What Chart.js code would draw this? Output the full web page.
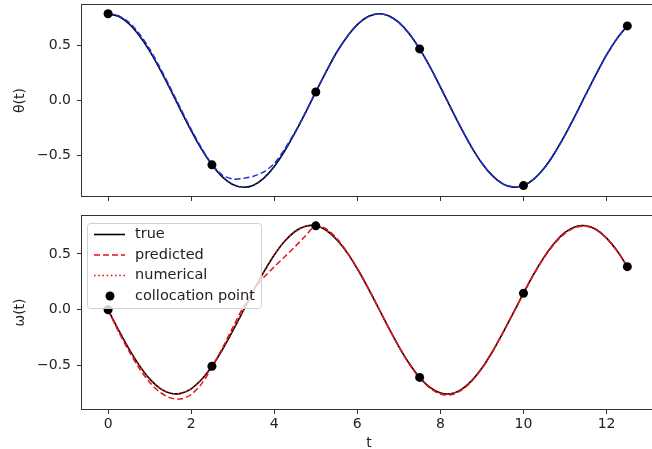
<!DOCTYPE html>
<html>
<head>
<meta charset="utf-8">
<script src="https://cdn.jsdelivr.net/npm/chart.js@4.4.1/dist/chart.umd.min.js"></script>
<style>
  html, body { margin: 0; padding: 0; background: #fff; overflow: hidden; width: 652px; height: 449px; }
  canvas { position: absolute; left: 0; display: block; }
  #thetaChart { top: 0; }
  #omegaChart { top: 205px; }
</style>
</head>
<body>
<canvas id="thetaChart" width="662" height="205"></canvas>
<canvas id="omegaChart" width="662" height="247"></canvas>
<script>
// time grid, step 0.25
var t = [0, 0.25, 0.5, 0.75, 1, 1.25, 1.5, 1.75, 2, 2.25, 2.5, 2.75, 3, 3.25, 3.5, 3.75, 4, 4.25, 4.5, 4.75,
    5, 5.25, 5.5, 5.75, 6, 6.25, 6.5, 6.75, 7, 7.25, 7.5, 7.75, 8, 8.25, 8.5, 8.75, 9, 9.25, 9.5, 9.75,
    10, 10.25, 10.5, 10.75, 11, 11.25, 11.5, 11.75, 12, 12.25, 12.5];

var thetaTrue = [0.785, 0.762, 0.696, 0.589, 0.449, 0.282, 0.100, -0.089, -0.272, -0.440, -0.582, -0.691, -0.760,
    -0.785, -0.766, -0.702, -0.597, -0.457, -0.291, -0.111, 0.077, 0.261, 0.434, 0.575, 0.686,
    0.757, 0.785, 0.767, 0.706, 0.604, 0.467, 0.304, 0.122, -0.066, -0.251, -0.421, -0.567,
    -0.680, -0.754, -0.784, -0.770, -0.711, -0.611, -0.475, -0.312, -0.133, 0.055, 0.239, 0.413, 0.560, 0.675];
var thetaPred = [0.785, 0.768, 0.708, 0.605, 0.466, 0.298, 0.115, -0.075, -0.260, -0.430, -0.578, -0.675, -0.710,
    -0.705, -0.685, -0.645, -0.570, -0.440, -0.285, -0.110, 0.077, 0.262, 0.435, 0.576, 0.686,
    0.757, 0.784, 0.766, 0.705, 0.603, 0.466, 0.303, 0.121, -0.067, -0.252, -0.422, -0.567,
    -0.679, -0.752, -0.781, -0.768, -0.710, -0.611, -0.476, -0.313, -0.134, 0.054, 0.238, 0.412, 0.559, 0.675];
var thetaNum = [0.785, 0.762, 0.696, 0.589, 0.449, 0.282, 0.100, -0.089, -0.272, -0.440, -0.582, -0.691, -0.760,
    -0.785, -0.766, -0.702, -0.597, -0.457, -0.291, -0.111, 0.077, 0.261, 0.434, 0.575, 0.686,
    0.757, 0.785, 0.767, 0.706, 0.604, 0.467, 0.304, 0.122, -0.066, -0.251, -0.421, -0.567,
    -0.680, -0.754, -0.784, -0.770, -0.711, -0.611, -0.475, -0.312, -0.133, 0.055, 0.239, 0.413, 0.560, 0.675];

var omegaTrue = [0.000, -0.180, -0.349, -0.499, -0.620, -0.705, -0.749, -0.750, -0.709, -0.626, -0.507, -0.359, -0.189,
    -0.011, 0.170, 0.339, 0.491, 0.614, 0.701, 0.748, 0.752, 0.712, 0.629, 0.514, 0.367,
    0.201, 0.022, -0.159, -0.330, -0.482, -0.607, -0.696, -0.746, -0.753, -0.716, -0.638, -0.523,
    -0.377, -0.210, -0.033, 0.148, 0.321, 0.474, 0.601, 0.693, 0.744, 0.753, 0.719, 0.642, 0.530, 0.386];
var omegaPred = [0.000, -0.195, -0.370, -0.525, -0.650, -0.740, -0.790, -0.800, -0.760, -0.665, -0.515, -0.345, -0.160,
    0.020, 0.175, 0.290, 0.385, 0.475, 0.565, 0.660, 0.752, 0.725, 0.640, 0.520, 0.370,
    0.203, 0.022, -0.160, -0.333, -0.487, -0.613, -0.704, -0.756, -0.763, -0.724, -0.642, -0.525,
    -0.378, -0.210, -0.032, 0.148, 0.318, 0.468, 0.593, 0.685, 0.737, 0.748, 0.716, 0.640, 0.528, 0.386];
var omegaNum = [0.000, -0.180, -0.349, -0.499, -0.620, -0.705, -0.749, -0.750, -0.709, -0.626, -0.507, -0.359, -0.189,
    -0.011, 0.170, 0.339, 0.491, 0.614, 0.701, 0.748, 0.752, 0.712, 0.629, 0.514, 0.367,
    0.201, 0.022, -0.159, -0.330, -0.482, -0.607, -0.696, -0.746, -0.753, -0.716, -0.638, -0.523,
    -0.377, -0.210, -0.033, 0.148, 0.321, 0.474, 0.601, 0.693, 0.744, 0.753, 0.719, 0.642, 0.530, 0.386];

// collocation points
var tColloc = [0, 2.5, 5, 7.5, 10, 12.5];
var thetaColloc = [0.785, -0.582, 0.077, 0.467, -0.770, 0.675];
var omegaColloc = [0.000, -0.507, 0.752, -0.607, 0.148, 0.386];

// ticks
var xTicks = [0, 2, 4, 6, 8, 10, 12];
var xTickLabels = ['0', '2', '4', '6', '8', '10', '12'];
var yTicks = [-0.5, 0, 0.5];
var yTickLabels = ['\u22120.5', '0.0', '0.5'];

Chart.defaults.font.family = 'DejaVu Sans';
Chart.defaults.font.size = 14;
Chart.defaults.color = '#222';

function pts(xs, ys) {
    return xs.map(function (x, i) { return { x: x, y: ys[i] }; });
}

var boxPlugin = {
    id: 'box',
    afterDatasetsDraw: function (chart) {
        var a = chart.chartArea, ctx = chart.ctx;
        ctx.save();
        ctx.strokeStyle = '#333';
        ctx.lineWidth = 1;
        ctx.strokeRect(Math.round(a.left) - 0.5, Math.round(a.top) - 0.5,
            Math.round(a.right - a.left) + 1, Math.round(a.bottom - a.top) + 1);
        ctx.restore();
    }
};

var legendPlugin = {
    id: 'innerLegend',
    afterDraw: function (chart) {
        var ctx = chart.ctx;
        var sets = chart.data.datasets.slice().sort(function (a, b) { return b.order - a.order; });
        ctx.save();
        ctx.font = '14.5px "DejaVu Sans"';
        var w = 0;
        sets.forEach(function (ds) { w = Math.max(w, ctx.measureText(ds.label).width); });
        ctx.beginPath();
        ctx.roundRect(87.5, 18.5, 135 + w + 6 - 87, 85, 3);
        ctx.fillStyle = 'rgba(255,255,255,0.8)';
        ctx.fill();
        ctx.strokeStyle = '#d0d0d0';
        ctx.lineWidth = 1;
        ctx.stroke();
        ctx.textBaseline = 'middle';
        sets.forEach(function (ds, i) {
            var y = 29.5 + i * 20.5;
            if (ds.showLine) {
                ctx.beginPath();
                ctx.setLineDash(ds.borderDash || []);
                ctx.strokeStyle = ds.borderColor;
                ctx.lineWidth = ds.borderWidth;
                ctx.moveTo(94, y);
                ctx.lineTo(125, y);
                ctx.stroke();
                ctx.setLineDash([]);
            } else {
                ctx.beginPath();
                ctx.fillStyle = ds.pointBackgroundColor;
                ctx.arc(110, y, ds.pointRadius, 0, Math.PI * 2);
                ctx.fill();
            }
            ctx.fillStyle = '#222';
            ctx.fillText(ds.label, 135, y);
        });
        ctx.restore();
    }
};

function makeChart(id, trueVals, predVals, numVals, collocVals, color, yTitle, yMin, yMax, opts) {
    var datasets = [
        { label: 'true', data: pts(t, trueVals), showLine: true, borderColor: '#000', borderWidth: 1.6,
          pointRadius: 0, tension: 0.3, order: 4 },
        { label: 'predicted', data: pts(t, predVals), showLine: true, borderColor: color, borderWidth: 1.5,
          borderDash: [6, 3], pointRadius: 0, tension: 0.3, order: 3 },
        { label: 'numerical', data: pts(t, numVals), showLine: true, borderColor: color, borderWidth: 1.5,
          borderDash: [1.6, 2.6], pointRadius: 0, tension: 0.3, order: 2 },
        { label: 'collocation point', data: pts(tColloc, collocVals), showLine: false,
          pointRadius: 4.5, pointBackgroundColor: '#000', pointBorderColor: '#000', pointBorderWidth: 0, order: 1 }
    ];
    return new Chart(document.getElementById(id), {
        type: 'scatter',
        data: { datasets: datasets },
        plugins: opts.legend ? [boxPlugin, legendPlugin] : [boxPlugin],
        options: {
            responsive: false,
            maintainAspectRatio: false,
            animation: false,
            devicePixelRatio: 1,
            layout: { padding: { top: opts.padTop, right: 6, left: 0, bottom: 0 } },
            plugins: { legend: { display: false }, tooltip: { enabled: false } },
            scales: {
                x: {
                    type: 'linear', min: -0.628, max: 13.19,
                    afterBuildTicks: function (s) { s.ticks = xTicks.map(function (v) { return { value: v }; }); },
                    afterFit: function (s) { s.height = opts.xHeight; s.paddingLeft = 0; s.paddingRight = 0; },
                    ticks: { padding: 2, color: '#222',
                             callback: function (v, i) { return opts.xLabels ? xTickLabels[i] : ''; } },
                    grid: { display: true, drawOnChartArea: false, drawTicks: true, tickLength: 5, tickColor: '#333' },
                    border: { display: false },
                    title: { display: opts.xLabels, text: 't', color: '#222', padding: { top: 0, bottom: 0 } }
                },
                y: {
                    type: 'linear', min: yMin, max: yMax,
                    afterBuildTicks: function (s) { s.ticks = yTicks.map(function (v) { return { value: v }; }); },
                    afterFit: function (s) { s.width = 82; s.paddingTop = 0; s.paddingBottom = 0; },
                    ticks: { padding: 6, color: '#222', callback: function (v, i) { return yTickLabels[i]; } },
                    grid: { display: true, drawOnChartArea: false, drawTicks: true, tickLength: 5, tickColor: '#333' },
                    border: { display: false },
                    title: { display: true, text: yTitle, color: '#222', padding: { top: 12, bottom: 0 } }
                }
            }
        }
    });
}

makeChart('thetaChart', thetaTrue, thetaPred, thetaNum, thetaColloc, '#1f2fd6', '\u03b8(t)', -0.864, 0.864,
    { padTop: 5, xHeight: 9, xLabels: false, legend: false });
makeChart('omegaChart', omegaTrue, omegaPred, omegaNum, omegaColloc, '#e3151b', '\u03c9(t)', -0.89, 0.84,
    { padTop: 11, xHeight: 43, xLabels: true, legend: true });
</script>
</body>
</html>
